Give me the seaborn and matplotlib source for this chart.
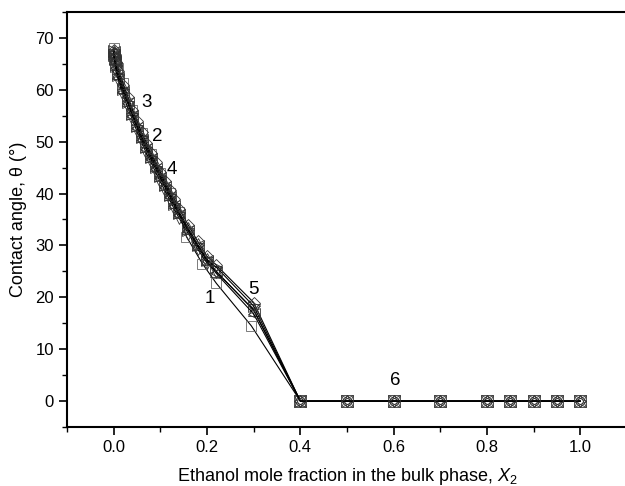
import matplotlib
matplotlib.use("Agg")
import matplotlib.pyplot as plt
import seaborn as sns
import numpy as np
import pandas as pd
from matplotlib.ticker import MultipleLocator

# ---- data ----
x_common = [0, 0.001, 0.002, 0.005, 0.01, 0.02, 0.03, 0.04, 0.05, 0.06, 0.07, 0.08,
            0.09, 0.10, 0.11, 0.12, 0.13, 0.14, 0.16, 0.18, 0.20, 0.22, 0.30,
            0.40, 0.50, 0.60, 0.70, 0.80, 0.85, 0.90, 0.95, 1.00]

x1 = [0, 0.005, 0.01, 0.02, 0.04, 0.06, 0.08, 0.10, 0.12, 0.14, 0.156, 0.19, 0.22, 0.295,
      0.40]
y1 = [68.0, 66.0, 64.2, 61.3, 56.2, 51.6, 47.6, 44.0, 40.2, 36.4, 31.7, 26.5, 22.7, 14.5,
      0]

y2 = [67.5, 67.0, 66.2, 65.0, 63.2, 60.5, 58.0, 55.5, 53.3, 51.0, 49.2, 47.2,
      45.5, 43.6, 41.9, 40.0, 38.3, 36.5, 33.3, 30.2, 27.4, 25.0, 17.5,
      0, 0, 0, 0, 0, 0, 0, 0, 0]
y3 = [67.2, 66.5, 65.6, 64.2, 62.3, 59.6, 57.4, 55.0, 52.7, 50.4, 48.5, 46.6,
      44.8, 43.0, 41.2, 39.4, 37.6, 35.9, 32.8, 29.8, 27.0, 24.6, 16.8,
      0, 0, 0, 0, 0, 0, 0, 0, 0]
y4 = [66.8, 66.0, 65.0, 63.6, 61.8, 59.0, 56.6, 54.3, 52.0, 49.9, 47.8, 46.0,
      44.1, 42.3, 40.5, 38.8, 37.0, 35.3, 32.3, 29.3, 26.6, 24.9, 17.6,
      0, 0, 0, 0, 0, 0, 0, 0, 0]
y5 = [67.6, 67.1, 66.4, 65.3, 63.7, 61.0, 58.6, 56.2, 54.0, 51.8, 49.8, 47.8,
      46.0, 44.2, 42.5, 40.6, 38.9, 37.1, 33.9, 30.8, 27.9, 26.2, 19.0,
      0, 0, 0, 0, 0, 0, 0, 0, 0]
y6 = [67.4, 66.7, 65.9, 64.6, 62.8, 60.1, 57.7, 55.3, 53.1, 50.9, 48.9, 47.0,
      45.2, 43.3, 41.6, 39.7, 38.0, 36.2, 33.0, 30.0, 27.2, 25.8, 18.3,
      0, 0, 0, 0, 0, 0, 0, 0, 0]

curve_labels = ["1", "2", "3", "4", "5", "6"]
label_x = [0.206, 0.094, 0.07, 0.124, 0.30, 0.604]
label_y = [19.8, 51.0, 57.6, 44.7, 21.6, 4.0]

xticks = [0.0, 0.2, 0.4, 0.6, 0.8, 1.0]
yticks = [0, 10, 20, 30, 40, 50, 60, 70]

series = [
    (x1, y1, "s"),
    (x_common, y5, "D"),
    (x_common, y2, "^"),
    (x_common, y4, "v"),
    (x_common, y6, ">"),
    (x_common, y3, "<"),
]

# ---- plotting ----
sns.set_style("ticks")
plt.rcParams['font.family'] = ['Liberation Sans', 'DejaVu Sans']
plt.rcParams['mathtext.fontset'] = 'custom'
plt.rcParams['mathtext.it'] = 'Liberation Sans:italic'
plt.rcParams['mathtext.rm'] = 'Liberation Sans'
plt.rcParams['text.color'] = 'black'
plt.rcParams['axes.labelcolor'] = 'black'
plt.rcParams['xtick.color'] = 'black'
plt.rcParams['ytick.color'] = 'black'

fig = plt.figure(figsize=(6.25, 4.86), dpi=100)
ax = fig.add_axes([67/625, 1-427/486, (627-67)/625, (427-12)/486])

for i, (xs, ys, m) in enumerate(series):
    df = pd.DataFrame({"x": xs, "y": ys})
    ms = {"s": 7, "D": 6, "^": 8, "v": 8, "<": 8, ">": 8}[m]
    ec = "#666666" if m == "s" else "#333333"
    sns.lineplot(data=df, x="x", y="y", ax=ax, sort=False, color="black",
                 linewidth=0.8, marker=m, markersize=ms, markerfacecolor="none",
                 markeredgecolor=ec, markeredgewidth=0.6, zorder=3 + i)

for t, lx, ly in zip(curve_labels, label_x, label_y):
    ax.text(lx, ly, t, fontsize=13.5, ha="center", va="center", zorder=20)

ax.set_xlim(-0.1, 1.1)
ax.set_ylim(-5, 75)
ax.set_xticks(xticks)
ax.set_yticks(yticks)
ax.set_xticklabels([f"{v:.1f}" for v in xticks])
ax.xaxis.set_minor_locator(MultipleLocator(0.1))
ax.yaxis.set_minor_locator(MultipleLocator(5))
ax.tick_params(axis="both", which="major", direction="out", length=6, width=1.2,
               labelsize=12, top=False, right=False)
ax.tick_params(axis="both", which="minor", direction="out", length=3.5, width=1.0,
               top=False, right=False)
for s in ax.spines.values():
    s.set_linewidth(1.5)
    s.set_color("black")

ax.set_xlabel("Ethanol mole fraction in the bulk phase, $X_2$", fontsize=13, labelpad=8)
ax.set_ylabel("Contact angle, θ (°)", fontsize=13, labelpad=6)

fig.savefig("out.png", dpi=100)
